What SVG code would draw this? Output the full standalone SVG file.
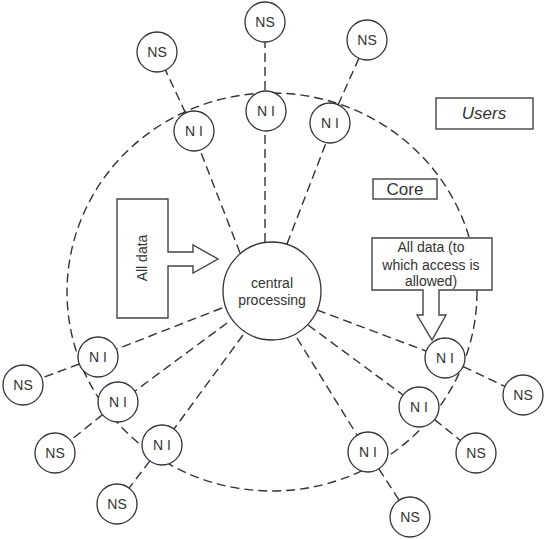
<svg xmlns="http://www.w3.org/2000/svg" width="544" height="539" viewBox="0 0 544 539">
<style>
.bg{fill:#fff}
.dash{fill:none;stroke:#333;stroke-width:1.4;stroke-dasharray:9,5}
.node{fill:#fff;stroke:#333;stroke-width:1.3}
.box{fill:#fff;stroke:#444;stroke-width:1.4}
text{font-family:"Liberation Sans",Arial,sans-serif;font-size:14px;fill:#333;text-anchor:middle}
.big{font-size:17px}
</style>
<rect class="bg" x="0" y="0" width="544" height="539"/>
<ellipse class="dash" cx="272" cy="292" rx="205" ry="199"/>
<g id="connectors">
<line class="dash" x1="265" y1="242" x2="265" y2="131"/>
<line class="dash" x1="240" y1="253" x2="200" y2="150"/>
<line class="dash" x1="287" y1="244" x2="326" y2="143"/>
<line class="dash" x1="222" y1="308" x2="117" y2="349"/>
<line class="dash" x1="227" y1="323" x2="135" y2="391"/>
<line class="dash" x1="243" y1="335" x2="174" y2="429"/>
<line class="dash" x1="297" y1="338" x2="357" y2="435"/>
<line class="dash" x1="308" y1="325" x2="403" y2="395"/>
<line class="dash" x1="317" y1="310" x2="426" y2="351"/>
<line class="dash" x1="265" y1="90" x2="265" y2="42"/>
<line class="dash" x1="185.5" y1="112.9" x2="165.5" y2="70.1"/>
<line class="dash" x1="338.1" y1="104.7" x2="358.9" y2="58.3"/>
<line class="dash" x1="79.3" y1="364" x2="41.7" y2="378"/>
<line class="dash" x1="102.5" y1="414.6" x2="70.5" y2="440.4"/>
<line class="dash" x1="149.9" y1="460.9" x2="129.1" y2="488.1"/>
<line class="dash" x1="463.1" y1="366.6" x2="504.9" y2="386.4"/>
<line class="dash" x1="434.6" y1="419.6" x2="460.4" y2="440.4"/>
<line class="dash" x1="378.9" y1="468.8" x2="399.1" y2="500.2"/>
</g>
<g id="central"><circle class="node" cx="272" cy="291" r="49"/><text x="272" y="288">central</text><text x="272" y="305">processing</text></g>
<g id="alldata"><path class="box" d="M117,199 H168 V252 H193 V245 L218,259 L193,273 V266 H168 V318 H117 Z"/><text transform="translate(147,258) rotate(-90)">All data</text></g>
<g id="alldata-allowed"><path class="box" d="M372,238 H492 V290 H439 V315 H446 L432,340 L417,315 H423 V290 H372 Z"/><text x="431" y="252">All data (to</text><text x="431" y="270">which access is</text><text x="431" y="286">allowed)</text></g>
<g id="users"><rect class="box" x="436" y="98" width="97" height="31"/><text class="big" x="484" y="119" font-style="italic">Users</text></g>
<g id="core"><rect class="box" x="373" y="179" width="64" height="20"/><text class="big" x="405" y="195">Core</text></g>
<g id="ni-top"><circle class="node" cx="266" cy="111" r="20"/><text x="266" y="116">N I</text></g>
<g id="ni-tl"><circle class="node" cx="194" cy="131" r="20"/><text x="194" y="136">N I</text></g>
<g id="ni-tr"><circle class="node" cx="330" cy="123" r="20"/><text x="330" y="128">N I</text></g>
<g id="ni-l1"><circle class="node" cx="98" cy="357" r="20"/><text x="98" y="362">N I</text></g>
<g id="ni-l2"><circle class="node" cx="118" cy="402" r="20"/><text x="118" y="407">N I</text></g>
<g id="ni-l3"><circle class="node" cx="162" cy="445" r="20"/><text x="162" y="450">N I</text></g>
<g id="ni-r1"><circle class="node" cx="445" cy="358" r="20"/><text x="445" y="363">N I</text></g>
<g id="ni-r2"><circle class="node" cx="419" cy="407" r="20"/><text x="419" y="412">N I</text></g>
<g id="ni-r3"><circle class="node" cx="368" cy="452" r="20"/><text x="368" y="457">N I</text></g>
<g id="ns-top"><circle class="node" cx="265" cy="22" r="20"/><text x="265" y="27">NS</text></g>
<g id="ns-tl"><circle class="node" cx="157" cy="52" r="20"/><text x="157" y="57">NS</text></g>
<g id="ns-tr"><circle class="node" cx="367" cy="40" r="20"/><text x="367" y="45">NS</text></g>
<g id="ns-l1"><circle class="node" cx="23" cy="385" r="20"/><text x="23" y="390">NS</text></g>
<g id="ns-l2"><circle class="node" cx="55" cy="453" r="20"/><text x="55" y="458">NS</text></g>
<g id="ns-l3"><circle class="node" cx="117" cy="504" r="20"/><text x="117" y="509">NS</text></g>
<g id="ns-r1"><circle class="node" cx="523" cy="395" r="20"/><text x="523" y="400">NS</text></g>
<g id="ns-r2"><circle class="node" cx="476" cy="453" r="20"/><text x="476" y="458">NS</text></g>
<g id="ns-r3"><circle class="node" cx="410" cy="517" r="20"/><text x="410" y="522">NS</text></g>
</svg>
